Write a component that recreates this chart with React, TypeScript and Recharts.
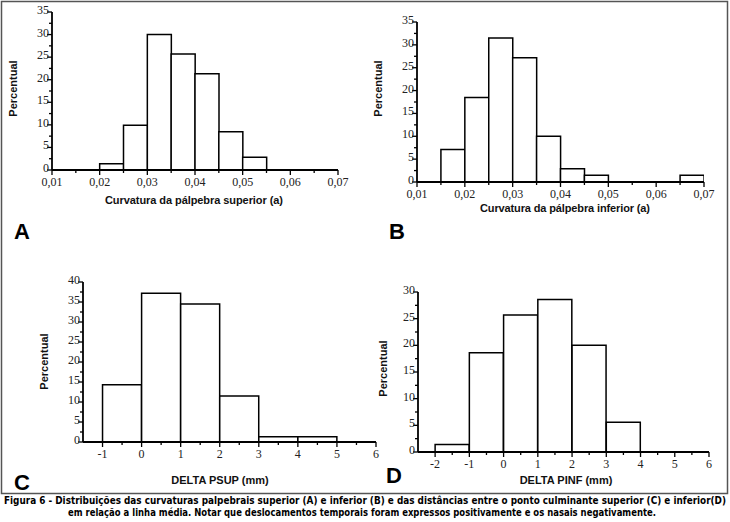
import React from 'react';
import { BarChart, Bar, XAxis, YAxis } from 'recharts';

// bin centres and percentages
const binsA = [0.0125, 0.0175, 0.0225, 0.0275, 0.0325, 0.0375, 0.0425, 0.0475, 0.0525, 0.0575, 0.0625, 0.0675];
const pctA = [0, 0, 1.4, 9.9, 30.0, 25.7, 21.3, 8.5, 2.8, 0, 0, 0];

const binsB = [0.0125, 0.0175, 0.0225, 0.0275, 0.0325, 0.0375, 0.0425, 0.0475, 0.0525, 0.0575, 0.0625, 0.0675];
const pctB = [0, 7.1, 18.5, 31.5, 27.2, 10.0, 2.9, 1.5, 0, 0, 0, 1.5];

const binsC = [-0.5, 0.5, 1.5, 2.5, 3.5, 4.5];
const pctC = [14.3, 37.2, 34.5, 11.5, 1.3, 1.3];

const binsD = [-1.5, -0.5, 0.5, 1.5, 2.5, 3.5];
const pctD = [1.4, 18.6, 25.7, 28.6, 20.0, 5.6];

const xTicksAB = [0.01, 0.02, 0.03, 0.04, 0.05, 0.06, 0.07];
const xMinorAB = [0.015, 0.025, 0.035, 0.045, 0.055, 0.065];
const xTicksC = [-1, 0, 1, 2, 3, 4, 5, 6];
const xMinorC = [-0.5, 0.5, 1.5, 2.5, 3.5, 4.5, 5.5];
const xTicksD = [-2, -1, 0, 1, 2, 3, 4, 5, 6];
const xMinorD = [-1.5, -0.5, 0.5, 1.5, 2.5, 3.5, 4.5, 5.5];
const yTicks35 = [0, 5, 10, 15, 20, 25, 30, 35];
const yMinor35 = [2.5, 7.5, 12.5, 17.5, 22.5, 27.5, 32.5];
const yTicks40 = [0, 5, 10, 15, 20, 25, 30, 35, 40];
const yMinor40 = [2.5, 7.5, 12.5, 17.5, 22.5, 27.5, 32.5, 37.5];
const yTicks30 = [0, 5, 10, 15, 20, 25, 30];
const yMinor30 = [2.5, 7.5, 12.5, 17.5, 22.5, 27.5];

const caption1 =
  'Figura 6 - Distribuições das curvaturas palpebrais superior (A) e inferior (B) e das distâncias entre o ponto culminante superior (C) e inferior(D)';
const caption2 =
  'em relação a linha média. Notar que deslocamentos temporais foram expressos positivamente e os nasais negativamente.';

const W = 730;
const H = 495;
const SERIF = "'Liberation Serif', 'DejaVu Serif', serif";
const SANS = "'Liberation Sans', Arial, sans-serif";
const NARROW = "'Liberation Sans Narrow', 'DejaVu Sans Condensed', sans-serif";
const CAP_SX = 0.8; // horizontal squeeze of the caption

const isMajor = (list: number[], v: number) => list.some((m) => Math.abs(m - v) < 1e-9);
const comma = (v: number) => v.toFixed(2).replace('.', ',');
const plain = (v: number) => String(v);

function XTick(props: any) {
  const { x, y, payload, majors, fmt, dy } = props;
  const major = isMajor(majors, payload.value);
  return (
    <g>
      <line x1={x} x2={x} y1={y} y2={y + (major ? 5 : 3)} stroke="#000" strokeWidth={1.3} />
      {major && (
        <text x={x} y={y + dy} textAnchor="middle" fontFamily={SERIF} fontSize={12} fill="#222">
          {fmt(payload.value)}
        </text>
      )}
    </g>
  );
}

function YTick(props: any) {
  const { x, y, payload, majors } = props;
  const major = isMajor(majors, payload.value);
  return (
    <g>
      <line x1={x} x2={x - (major ? 5 : 3)} y1={y} y2={y} stroke="#000" strokeWidth={1.3} />
      {major && (
        <text x={x - 3} y={y + 2} textAnchor="end" fontFamily={SERIF} fontSize={12} fill="#222">
          {payload.value}
        </text>
      )}
    </g>
  );
}

interface PanelProps {
  bins: number[];
  pct: number[];
  xDomain: [number, number];
  xMajor: number[];
  xMinor: number[];
  yMax: number;
  yMajor: number[];
  yMinor: number[];
  fmt: (v: number) => string;
  plot: { l: number; r: number; t: number; b: number };
  labelDy?: number;
}

function Panel({ bins, pct, xDomain, xMajor, xMinor, yMax, yMajor, yMinor, fmt, plot, labelDy = 16 }: PanelProps) {
  const data = bins.map((x, i) => ({ x, pct: pct[i] }));
  return (
    <div style={{ position: 'absolute', left: 0, top: 0 }}>
      <BarChart
        width={W}
        height={H}
        data={data}
        barCategoryGap={0}
        barGap={0}
        margin={{ left: plot.l - 40, right: W - plot.r, top: plot.t, bottom: H - plot.b - 30 }}
      >
        <XAxis
          type="number"
          dataKey="x"
          domain={xDomain}
          allowDataOverflow
          ticks={[...xMajor, ...xMinor]}
          interval={0}
          height={30}
          tickSize={0}
          tickMargin={0}
          axisLine={{ stroke: '#000', strokeWidth: 1.8 }}
          tickLine={false}
          tick={(p: any) => <XTick {...p} majors={xMajor} fmt={fmt} dy={labelDy} />}
        />
        <YAxis
          type="number"
          domain={[0, yMax]}
          ticks={[...yMajor, ...yMinor]}
          interval={0}
          width={40}
          tickSize={0}
          tickMargin={0}
          axisLine={{ stroke: '#000', strokeWidth: 1.8 }}
          tickLine={false}
          tick={(p: any) => <YTick {...p} majors={yMajor} />}
        />
        <Bar dataKey="pct" fill="#fff" stroke="#000" strokeWidth={1.5} isAnimationActive={false} />
      </BarChart>
    </div>
  );
}

export default function App() {
  const title = { fontWeight: 700, fontSize: 11, fill: '#111', fontFamily: SANS } as const;
  const letter = { fontWeight: 700, fontSize: 22, fill: '#000', fontFamily: SANS } as const;
  const cap = { fontWeight: 700, fontSize: 10.5, fill: '#000', fontFamily: NARROW, lengthAdjust: 'spacingAndGlyphs', textAnchor: 'middle' } as const;
  return (
    <div style={{ position: 'absolute', left: 0, top: 0, width: 730, height: 522, background: '#fff' }}>
      <Panel bins={binsA} pct={pctA} xDomain={[0.01, 0.07]} xMajor={xTicksAB} xMinor={xMinorAB}
        yMax={35} yMajor={yTicks35} yMinor={yMinor35} fmt={comma} plot={{ l: 52, r: 338, t: 12, b: 170 }} />
      <Panel bins={binsB} pct={pctB} xDomain={[0.01, 0.07]} xMajor={xTicksAB} xMinor={xMinorAB}
        yMax={35} yMajor={yTicks35} yMinor={yMinor35} fmt={comma} plot={{ l: 417, r: 704, t: 22, b: 182 }} labelDy={16} />
      <Panel bins={binsC} pct={pctC} xDomain={[-1.5, 6]} xMajor={xTicksC} xMinor={xMinorC}
        yMax={40} yMajor={yTicks40} yMinor={yMinor40} fmt={plain} plot={{ l: 83, r: 376, t: 282, b: 442 }} />
      <Panel bins={binsD} pct={pctD} xDomain={[-2.5, 6]} xMajor={xTicksD} xMinor={xMinorD}
        yMax={30} yMajor={yTicks30} yMinor={yMinor30} fmt={plain} plot={{ l: 418, r: 709, t: 292, b: 452 }} />

      <svg width={730} height={522} style={{ position: 'absolute', left: 0, top: 0, pointerEvents: 'none' }}>
        <rect x={1.5} y={1.5} width={726} height={492} fill="none" stroke="#555" strokeWidth={1.5} />

        <text transform="translate(16.5,88.5) rotate(-90)" textAnchor="middle" {...title}>Percentual</text>
        <text transform="translate(381.5,88.5) rotate(-90)" textAnchor="middle" {...title}>Percentual</text>
        <text transform="translate(47.5,361.5) rotate(-90)" textAnchor="middle" {...title}>Percentual</text>
        <text transform="translate(386.5,368.5) rotate(-90)" textAnchor="middle" {...title}>Percentual</text>

        <text x={194} y={204} textAnchor="middle" textLength={178} lengthAdjust="spacing" {...title}>
          Curvatura da pálpebra superior (a)
        </text>
        <text x={565} y={212} textAnchor="middle" textLength={170} lengthAdjust="spacing" {...title}>
          Curvatura da pálpebra inferior (a)
        </text>
        <text x={220} y={484} textAnchor="middle" {...title}>DELTA PSUP (mm)</text>
        <text x={566} y={484} textAnchor="middle" {...title}>DELTA PINF (mm)</text>

        <text x={14} y={239} {...letter}>A</text>
        <text x={389} y={239} {...letter}>B</text>
        <text x={14} y={490} {...letter}>C</text>
        <text x={386} y={483} {...letter}>D</text>

        <g transform={`translate(365,0) scale(${CAP_SX},1)`}>
          <text x={0} y={504} textLength={722 / CAP_SX} {...cap}>{caption1}</text>
          <text x={-3 / CAP_SX} y={516} textLength={588 / CAP_SX} {...cap}>{caption2}</text>
        </g>
      </svg>
    </div>
  );
}
